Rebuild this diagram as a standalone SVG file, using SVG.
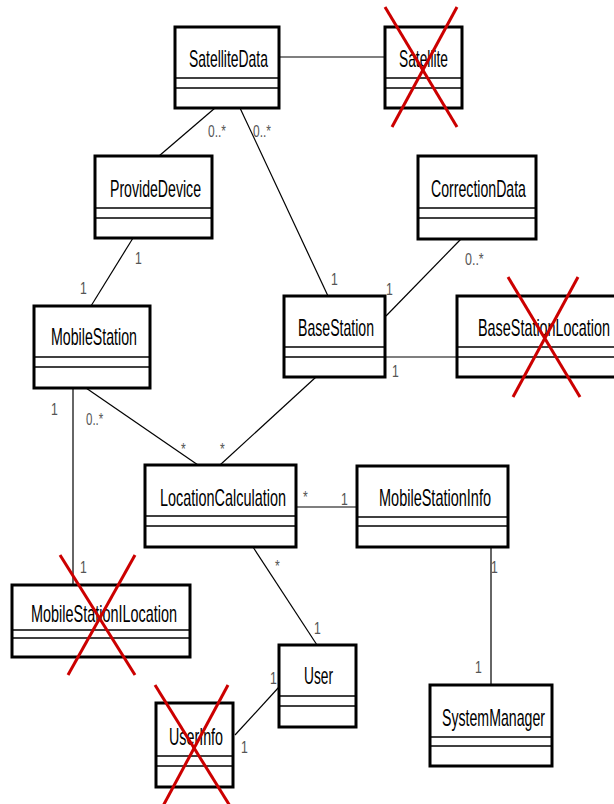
<svg xmlns="http://www.w3.org/2000/svg" width="614" height="804" viewBox="0 0 614 804">
<style>
.box{fill:#fff;stroke:#000;stroke-width:3}
.sep{stroke:#000;stroke-width:1.5}
.t{font-family:"Liberation Sans",Arial,sans-serif;font-size:23px;fill:#000}
.m{font-family:"Liberation Sans",Arial,sans-serif;font-size:17px;fill:#555}
.c{stroke:#000;stroke-width:1.2;fill:none}
.g{stroke:#666;stroke-width:2;fill:none}
.x{stroke:#cc0000;stroke-width:3;fill:none}
</style>
<rect width="614" height="804" fill="#fff"/>
<g id="connectors">
<line class="c" x1="279" y1="57" x2="385" y2="57"/>
<line class="c" x1="215" y1="108" x2="159" y2="156"/>
<line class="c" x1="240" y1="108" x2="328" y2="296"/>
<line class="c" x1="133" y1="238" x2="91" y2="306"/>
<line class="c" x1="461" y1="239" x2="386" y2="316"/>
<line class="c" x1="385" y1="357" x2="457" y2="357"/>
<line class="c" x1="316" y1="377" x2="220" y2="465"/>
<line class="c" x1="86" y1="388" x2="198" y2="465"/>
<line class="g" x1="73" y1="388" x2="73" y2="585"/>
<line class="c" x1="296" y1="507" x2="357" y2="507"/>
<line class="c" x1="253" y1="547" x2="317" y2="645"/>
<line class="g" x1="491" y1="547" x2="491" y2="685"/>
<line class="c" x1="235" y1="735" x2="279" y2="687"/>
<text class="m" transform="translate(208,137) scale(0.72,1)" textLength="25" lengthAdjust="spacingAndGlyphs">0..*</text>
<text class="m" transform="translate(253,137) scale(0.72,1)" textLength="25" lengthAdjust="spacingAndGlyphs">0..*</text>
<text class="m" transform="translate(135,264) scale(0.72,1)">1</text>
<text class="m" transform="translate(80,294) scale(0.72,1)">1</text>
<text class="m" transform="translate(331,285) scale(0.72,1)">1</text>
<text class="m" transform="translate(386,295) scale(0.72,1)">1</text>
<text class="m" transform="translate(465,265) scale(0.72,1)" textLength="26" lengthAdjust="spacingAndGlyphs">0..*</text>
<text class="m" transform="translate(392,377) scale(0.72,1)">1</text>
<text class="m" transform="translate(51,415) scale(0.72,1)">1</text>
<text class="m" transform="translate(86,425) scale(0.72,1)" textLength="24" lengthAdjust="spacingAndGlyphs">0..*</text>
<text class="m" transform="translate(181,455) scale(0.72,1)">*</text>
<text class="m" transform="translate(220,455) scale(0.72,1)">*</text>
<text class="m" transform="translate(303,503) scale(0.72,1)">*</text>
<text class="m" transform="translate(341,505) scale(0.72,1)">1</text>
<text class="m" transform="translate(275,572) scale(0.72,1)">*</text>
<text class="m" transform="translate(80,573) scale(0.72,1)">1</text>
<text class="m" transform="translate(491,573) scale(0.72,1)">1</text>
<text class="m" transform="translate(314,634) scale(0.72,1)">1</text>
<text class="m" transform="translate(475,673) scale(0.72,1)">1</text>
<text class="m" transform="translate(270,684) scale(0.72,1)">1</text>
<text class="m" transform="translate(241,753) scale(0.72,1)">1</text>
</g>
<g id="SatelliteData">
<rect class="box" x="175" y="27" width="104" height="81"/>
<line class="sep" x1="175" y1="78" x2="279" y2="78"/><line class="sep" x1="175" y1="88" x2="279" y2="88"/>
<text class="t" transform="translate(189,67) scale(0.62,1)" textLength="127.4" lengthAdjust="spacingAndGlyphs">SatelliteData</text>
</g>
<g id="Satellite">
<rect class="box" x="385" y="27" width="77" height="81"/>
<line class="sep" x1="385" y1="78" x2="462" y2="78"/><line class="sep" x1="385" y1="88" x2="462" y2="88"/>
<text class="t" transform="translate(399,67) scale(0.62,1)" textLength="79" lengthAdjust="spacingAndGlyphs">Satellite</text>
<line class="x" x1="385" y1="7" x2="457" y2="127"/><line class="x" x1="457" y1="7" x2="392" y2="127"/>
</g>
<g id="ProvideDevice">
<rect class="box" x="95" y="156" width="117" height="82"/>
<line class="sep" x1="95" y1="208" x2="212" y2="208"/><line class="sep" x1="95" y1="218" x2="212" y2="218"/>
<text class="t" transform="translate(110,197) scale(0.62,1)" textLength="146.8" lengthAdjust="spacingAndGlyphs">ProvideDevice</text>
</g>
<g id="CorrectionData">
<rect class="box" x="418" y="156" width="118" height="83"/>
<line class="sep" x1="418" y1="208" x2="536" y2="208"/><line class="sep" x1="418" y1="218" x2="536" y2="218"/>
<text class="t" transform="translate(431,197) scale(0.62,1)" textLength="153.2" lengthAdjust="spacingAndGlyphs">CorrectionData</text>
</g>
<g id="MobileStation">
<rect class="box" x="34" y="306" width="116" height="82"/>
<line class="sep" x1="34" y1="357" x2="150" y2="357"/><line class="sep" x1="34" y1="367" x2="150" y2="367"/>
<text class="t" transform="translate(51,345) scale(0.62,1)" textLength="138.7" lengthAdjust="spacingAndGlyphs">MobileStation</text>
</g>
<g id="BaseStation">
<rect class="box" x="284" y="296" width="101" height="81"/>
<line class="sep" x1="284" y1="347" x2="385" y2="347"/><line class="sep" x1="284" y1="357" x2="385" y2="357"/>
<text class="t" transform="translate(298,336) scale(0.62,1)" textLength="122.6" lengthAdjust="spacingAndGlyphs">BaseStation</text>
</g>
<g id="BaseStationLocation">
<rect class="box" x="457" y="296" width="160" height="81"/>
<line class="sep" x1="457" y1="347" x2="617" y2="347"/><line class="sep" x1="457" y1="357" x2="617" y2="357"/>
<text class="t" transform="translate(478,336) scale(0.62,1)" textLength="212.9" lengthAdjust="spacingAndGlyphs">BaseStationLocation</text>
<line class="x" x1="508" y1="277" x2="580" y2="397"/><line class="x" x1="578" y1="277" x2="513" y2="397"/>
</g>
<g id="LocationCalculation">
<rect class="box" x="145" y="465" width="151" height="82"/>
<line class="sep" x1="145" y1="516" x2="296" y2="516"/><line class="sep" x1="145" y1="526" x2="296" y2="526"/>
<text class="t" transform="translate(160,506) scale(0.62,1)" textLength="203.2" lengthAdjust="spacingAndGlyphs">LocationCalculation</text>
</g>
<g id="MobileStationInfo">
<rect class="box" x="357" y="466" width="151" height="81"/>
<line class="sep" x1="357" y1="517" x2="508" y2="517"/><line class="sep" x1="357" y1="526" x2="508" y2="526"/>
<text class="t" transform="translate(379,506) scale(0.62,1)" textLength="180.6" lengthAdjust="spacingAndGlyphs">MobileStationInfo</text>
</g>
<g id="MobileStationILocation">
<rect class="box" x="12" y="585" width="178" height="72"/>
<line class="sep" x1="12" y1="630" x2="190" y2="630"/><line class="sep" x1="12" y1="638" x2="190" y2="638"/>
<text class="t" transform="translate(31,622) scale(0.62,1)" textLength="235.5" lengthAdjust="spacingAndGlyphs">MobileStationILocation</text>
<line class="x" x1="60" y1="555" x2="135" y2="675"/><line class="x" x1="135" y1="555" x2="68" y2="675"/>
</g>
<g id="User">
<rect class="box" x="279" y="645" width="77" height="82"/>
<line class="sep" x1="279" y1="696" x2="356" y2="696"/><line class="sep" x1="279" y1="706" x2="356" y2="706"/>
<text class="t" transform="translate(304,684) scale(0.62,1)" textLength="46.8" lengthAdjust="spacingAndGlyphs">User</text>
</g>
<g id="UserInfo">
<rect class="box" x="156" y="703" width="77" height="84"/>
<line class="sep" x1="156" y1="756" x2="233" y2="756"/><line class="sep" x1="156" y1="766" x2="233" y2="766"/>
<text class="t" transform="translate(169,745) scale(0.62,1)" textLength="87.1" lengthAdjust="spacingAndGlyphs">UserInfo</text>
<line class="x" x1="155" y1="685" x2="230" y2="806"/><line class="x" x1="228" y1="685" x2="163" y2="806"/>
</g>
<g id="SystemManager">
<rect class="box" x="430" y="685" width="122" height="81"/>
<line class="sep" x1="430" y1="737" x2="552" y2="737"/><line class="sep" x1="430" y1="746" x2="552" y2="746"/>
<text class="t" transform="translate(442,726) scale(0.62,1)" textLength="166.1" lengthAdjust="spacingAndGlyphs">SystemManager</text>
</g>
</svg>
